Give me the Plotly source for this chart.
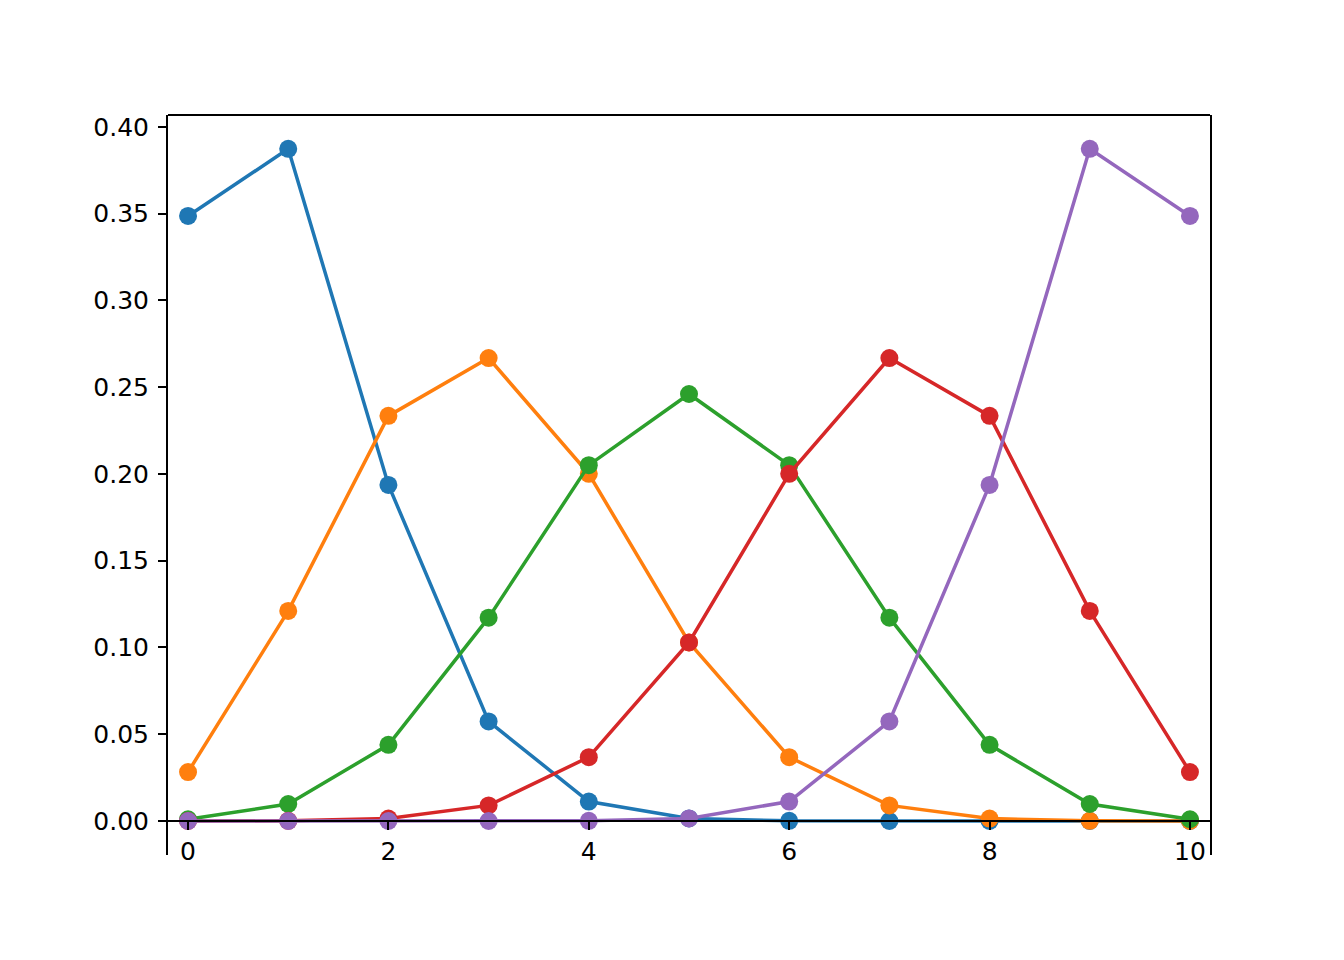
import plotly.graph_objects as go

k = [0, 1, 2, 3, 4, 5, 6, 7, 8, 9, 10]
p01 = [0.3487, 0.3874, 0.1937, 0.0574, 0.0112, 0.0015, 0.0001, 0.0000, 0.0000, 0.0000, 0.0000]
p03 = [0.0282, 0.1211, 0.2335, 0.2668, 0.2001, 0.1029, 0.0368, 0.0090, 0.0014, 0.0001, 0.0000]
p05 = [0.0010, 0.0098, 0.0439, 0.1172, 0.2051, 0.2461, 0.2051, 0.1172, 0.0439, 0.0098, 0.0010]
p07 = [0.0000, 0.0001, 0.0014, 0.0090, 0.0368, 0.1029, 0.2001, 0.2668, 0.2335, 0.1211, 0.0282]
p09 = [0.0000, 0.0000, 0.0000, 0.0000, 0.0001, 0.0015, 0.0112, 0.0574, 0.1937, 0.3874, 0.3487]
series = [p01, p03, p05, p07, p09]
colors = ["#1f77b4", "#ff7f0e", "#2ca02c", "#d62728", "#9467bd"]
xticks = [0, 2, 4, 6, 8, 10]
yticks = [0.0, 0.05, 0.10, 0.15, 0.20, 0.25, 0.30, 0.35, 0.40]

fig = go.Figure()
for s, c in zip(series, colors):
    fig.add_trace(go.Scatter(x=k, y=s, mode="lines+markers",
                             line=dict(color=c, width=3.5),
                             marker=dict(color=c, size=18),
                             showlegend=False))

W, H = 1344, 960
OFF = 8  # page body margin
L, R, T, B = 168 - OFF, 1210 - OFF, 115 - OFF, 855 - OFF
ymin, ymax = -0.0196, 0.4069
xpos = (0 - ymin) / (ymax - ymin)

font = dict(family="DejaVu Sans", size=25, color="black")
fig.update_layout(
    width=W, height=H,
    margin=dict(l=L, r=W - R, t=T, b=H - B, pad=0, autoexpand=False),
    paper_bgcolor="white", plot_bgcolor="white",
    font=font,
    xaxis=dict(range=[-0.2, 10.2], tickvals=xticks, ticktext=[str(v) for v in xticks],
               showgrid=False, zeroline=False, showline=True, linecolor="black", linewidth=2,
               ticks="outside", ticklen=8, tickwidth=2, tickcolor="black", automargin=False,
               anchor="free", position=xpos, layer="above traces", tickfont=font),
    yaxis=dict(range=[ymin, ymax], tickvals=yticks, ticktext=[f"{v:.2f}" for v in yticks],
               showgrid=False, zeroline=False, showline=True, mirror=True, linecolor="black", linewidth=2,
               ticks="outside", ticklen=8, tickwidth=2, tickcolor="black", automargin=False,
               ticklabelstandoff=4, layer="above traces", tickfont=font),
    shapes=[dict(type="line", xref="paper", yref="paper", x0=0, x1=1, y0=1, y1=1,
                 line=dict(color="black", width=2), layer="above")],
)
fig.write_html("out.html")
